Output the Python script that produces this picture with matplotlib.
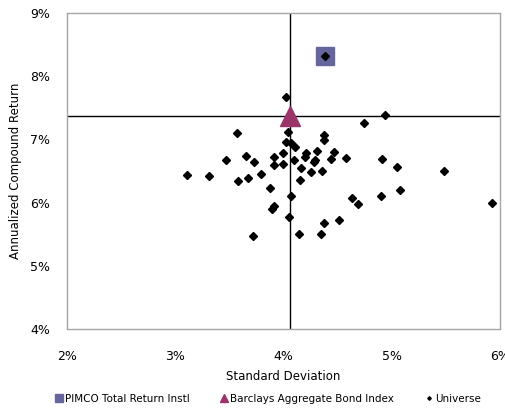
import matplotlib.pyplot as plt
from matplotlib.ticker import FuncFormatter

# universe of managers: standard deviation (%) and annualized return (%)
univ_sd = [4.38, 4.02, 4.74, 4.94, 3.57, 4.04, 4.37, 4.37, 4.02, 4.07, 4.11,
           3.65, 3.47, 3.73, 3.91, 4.00, 3.91, 4.00, 4.10, 4.21, 4.20, 4.31,
           4.28, 4.29, 4.16, 4.25, 4.36, 4.47, 4.44, 4.58, 4.91, 5.05, 5.48,
           3.11, 3.31, 3.58, 3.67, 3.79, 4.15, 3.88, 4.07, 4.63, 4.69, 4.90,
           5.08, 5.93, 3.91, 3.89, 4.05, 4.37, 4.51, 3.72, 4.14, 4.35]
univ_ret = [8.32, 7.67, 7.26, 7.38, 7.10, 7.11, 7.07, 6.99, 6.96, 6.95, 6.88,
            6.74, 6.68, 6.65, 6.72, 6.78, 6.59, 6.61, 6.67, 6.78, 6.72, 6.81,
            6.64, 6.68, 6.55, 6.48, 6.50, 6.80, 6.69, 6.71, 6.69, 6.56, 6.50,
            6.44, 6.42, 6.34, 6.39, 6.46, 6.36, 6.23, 6.10, 6.08, 5.98, 6.10,
            6.20, 5.99, 5.95, 5.90, 5.77, 5.68, 5.72, 5.47, 5.50, 5.50]

pimco_sd, pimco_ret = 4.38, 8.32
bench_sd, bench_ret = 4.06, 7.37

plt.rcParams['font.family'] = 'DejaVu Sans'
fig = plt.figure(figsize=(5.06, 4.09), dpi=100)
ax = fig.add_axes([0.1324, 0.1956, 0.8556, 0.7726])

ax.axvline(bench_sd, color='black', lw=1, zorder=1)
ax.axhline(bench_ret, color='black', lw=1, zorder=1)

ax.plot([pimco_sd], [pimco_ret], 's', ms=13, color='#66669e', zorder=2,
        label='PIMCO Total Return Instl')
ax.plot([bench_sd], [bench_ret], '^', ms=15, color='#9b3468', zorder=4,
        label='Barclays Aggregate Bond Index')
ax.plot(univ_sd, univ_ret, 'D', ms=4.5, color='black', lw=0, zorder=3,
        label='Universe')

ax.set_xlim(2, 6)
ax.set_ylim(4, 9)
ax.set_xticks([2, 3, 4, 5, 6])
ax.set_yticks([4, 5, 6, 7, 8, 9])
pct = FuncFormatter(lambda v, p: '%d%%' % round(v))
ax.xaxis.set_major_formatter(pct)
ax.yaxis.set_major_formatter(pct)
ax.tick_params(length=0, labelsize=9)
ax.tick_params(axis='x', pad=15)
ax.tick_params(axis='y', pad=12)
for s in ax.spines.values():
    s.set_color('#a6a6a6')
    s.set_linewidth(1)

ax.set_xlabel('Standard Deviation', fontsize=8.5, labelpad=5)
ax.set_ylabel('Annualized Compound Return', fontsize=8.5, labelpad=6)

h, l = ax.get_legend_handles_labels()
leg = fig.legend(h, l, loc='center', bbox_to_anchor=(0.53, 0.025), ncol=3,
                 frameon=False, fontsize=7.5, markerscale=0.4,
                 handlelength=0.6, handletextpad=0.3, columnspacing=3.0)

fig.savefig('out.png', dpi=100)
